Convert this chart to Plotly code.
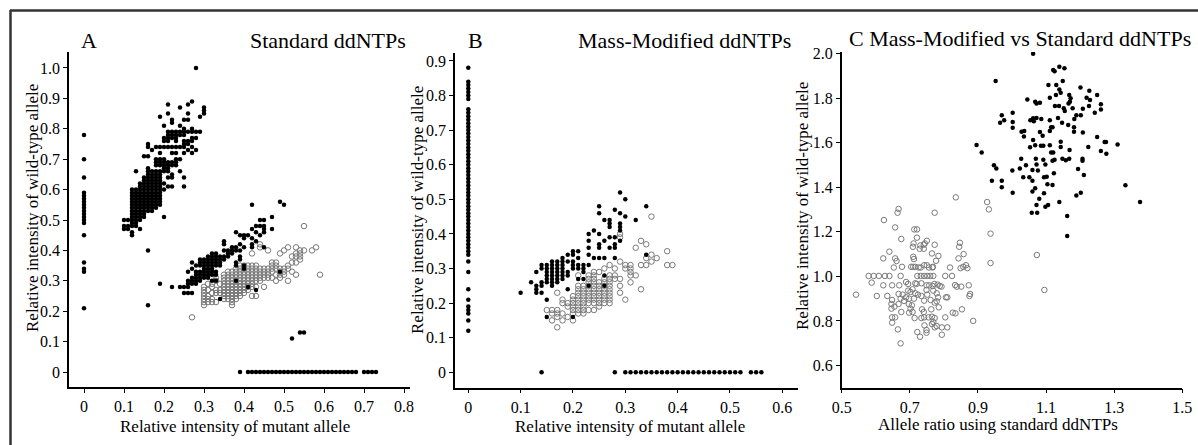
import plotly.graph_objects as go

# ---------------- DATA (values in hundredths for panels A and B) ----------------
# Panel A: Standard ddNTPs  (x = mutant, y = wild-type)
A_filled_cols = [
    (0, [78, 70, 64, 59, 58, 57, 56, 55, 54, 53, 52, 51, 50, 49, 45, 36, 34, 33, 21]),
    (10, [50, 48, 47]),
    (11, [50, 48, 47]),
    (12, [60, 59, 58, 57, 56, 55, 54, 53, 52, 51, 50, 49, 48, 46, 45]),
    (13, [66, 60, 59, 58, 57, 56, 55, 54, 53, 52, 51, 50, 49, 48]),
    (14, [62, 61, 60, 59, 58, 57, 56, 55, 54, 53, 52, 51, 50, 47]),
    (15, [71, 64, 63, 62, 61, 60, 59, 58, 57, 56, 55, 54, 53, 52, 51]),
    (16, [75, 74, 71, 67, 66, 65, 64, 63, 62, 61, 60, 59, 58, 57, 56, 55, 54, 53, 40, 22]),
    (17, [73, 66, 65, 64, 63, 62, 61, 60, 59, 58, 57, 56, 55, 54, 53]),
    (18, [74, 70, 69, 68, 66, 65, 64, 63, 62, 61, 60, 59, 58, 57, 56, 55, 54]),
    (19, [84, 74, 72, 70, 69, 68, 66, 65, 64, 63, 62, 61, 60, 59, 58, 57, 56, 55, 29]),
    (20, [81, 77, 76, 74, 70, 69, 68, 67, 66, 62, 60, 51]),
    (21, [88, 85, 79, 78, 77, 76, 74, 69, 68, 67, 66, 64, 61]),
    (22, [83, 82, 79, 78, 77, 74, 72, 69, 68, 65, 64, 61, 28]),
    (23, [79, 78, 77, 76, 74, 72, 70, 69, 68]),
    (24, [87, 81, 79, 78, 74, 70, 66, 28]),
    (25, [83, 80, 79, 78, 76, 75, 74, 72, 64, 61, 28, 26]),
    (26, [88, 85, 83, 79, 76, 75, 73, 33, 30, 29, 28, 26]),
    (27, [89, 80, 79, 77, 76, 74, 72, 36, 34, 31, 30, 29, 26]),
    (28, [100, 79, 77, 73, 35, 33, 32, 31, 30, 29]),
    (29, [84, 79, 37, 36, 35, 33, 32, 31, 30]),
    (30, [87, 86, 85, 37, 36, 35, 34, 33, 32, 31]),
    (31, [38, 37, 36, 35, 34, 33, 32, 31]),
    (32, [39, 38, 37, 36, 35, 34, 33, 32, 30]),
    (33, [39, 38, 37, 36, 35, 33, 32, 30]),
    (34, [38, 37, 36, 35, 24]),
    (35, [43, 42, 40, 38, 37]),
    (36, [40, 39, 38]),
    (37, [41, 40, 39]),
    (38, [46, 41, 40, 36, 35, 30]),
    (39, [45, 42, 40, 38, 37, 0]),
    (40, [45, 44, 41, 35, 34]),
    (41, [45, 28, 0]), (42, [55, 47, 44, 42, 41, 0]), (43, [48, 46, 43, 27, 0]),
    (44, [50, 48, 45, 0]), (45, [50, 48, 47, 46, 41, 0]), (46, [0]), (47, [51, 47, 0]),
    (48, [0]), (49, [56, 33, 0]), (50, [55, 0]), (51, [0]), (52, [11, 0]), (53, [0]),
    (54, [13, 0]), (55, [13, 0]), (56, [0]), (57, [0]), (58, [0]), (59, [0]), (60, [0]),
    (61, [0]), (62, [0]), (63, [0]), (64, [0]), (65, [0]), (66, [0]), (67, [0]), (68, [0]),
    (70, [0]), (71, [0]), (72, [0]), (73, [0]),
]
A_open_cols = [
    (27, [18]),
    (30, [28, 27, 26, 25, 24, 23, 22]),
    (31, [29, 27, 25, 24, 23]),
    (32, [31, 29, 28, 26, 24, 23]),
    (33, [31, 30, 27, 26, 23]),
    (34, [29, 27, 26]),
    (35, [32, 31, 30, 29, 28, 27, 26, 25, 24]),
    (36, [33, 32, 31, 30, 29, 28, 27, 26, 25, 24]),
    (37, [33, 32, 31, 30, 29, 28, 27, 26, 25, 24, 23, 22]),
    (38, [34, 33, 32, 31, 30, 29, 28, 27, 26, 25, 24]),
    (39, [35, 34, 33, 32, 31, 30, 29, 28, 27, 26, 25]),
    (40, [35, 34, 33, 32, 31, 30, 29, 28, 27, 26]),
    (41, [35, 34, 33, 32, 31, 30, 29, 28, 27]),
    (42, [39, 35, 34, 33, 32, 31, 30, 29, 28, 25]),
    (43, [35, 34, 33, 32, 31, 30, 28, 25]),
    (44, [42, 41, 34, 33, 32, 31, 30]),
    (45, [34, 33, 32, 31, 28]),
    (46, [40, 34, 33, 32, 31]),
    (47, [36, 35, 34, 33, 31]),
    (48, [36, 35, 34, 32, 30]),
    (49, [39, 34, 33, 32, 31]),
    (50, [40, 34, 33, 32]),
    (51, [41, 35, 34, 30]),
    (52, [38, 36, 33]),
    (53, [41, 39, 38, 36, 32]),
    (54, [40, 39, 38, 37]),
    (55, [48, 40]),
    (57, [40]),
    (58, [41]),
    (59, [32]),
]

# Panel B: Mass-Modified ddNTPs
B_filled_cols = [
    (0, [88, 84, 83, 82, 81, 80, 79, 76, 75, 74, 73, 72, 71, 70, 69, 68, 67, 66, 65, 64,
         63, 62, 61, 60, 59, 58, 57, 56, 55, 54, 53, 52, 51, 50, 49, 48, 47, 46, 45, 44,
         43, 42, 41, 40, 39, 38, 37, 36, 35, 34, 32, 29, 24, 21, 19, 18, 17, 15, 12]),
    (10, [23]), (12, [26]),
    (13, [29, 25, 24, 23]),
    (14, [31, 30, 26, 25, 23, 0]),
    (15, [31, 30, 29, 28, 27, 26, 21, 16]),
    (16, [32, 31, 30, 29, 28, 27, 26, 25]),
    (17, [32, 31, 30, 29, 28, 27, 26]),
    (18, [33, 32, 31, 30, 29, 28, 27]),
    (19, [34, 32, 29, 28, 24]),
    (20, [35, 34, 32, 31, 30, 16]),
    (21, [35, 33, 31, 30, 27]),
    (22, [31, 30, 29, 27]),
    (23, [40, 38, 36, 34, 31, 25]),
    (24, [41, 33]),
    (25, [48, 46, 40, 37, 36, 33]),
    (26, [44, 38, 33, 28, 25]),
    (27, [44, 43, 42, 39, 36]),
    (28, [47, 39, 37, 36, 33, 0]),
    (29, [52, 46, 43, 42, 41, 38]),
    (30, [50, 45, 0]), (31, [0]), (32, [44, 0]), (33, [0]), (34, [48, 34, 0]),
    (35, [0]), (36, [0]), (37, [0]), (38, [0]), (39, [0]), (40, [0]), (41, [0]),
    (42, [0]), (43, [0]), (44, [0]), (45, [0]), (46, [0]), (47, [0]), (48, [0]),
    (49, [0]), (50, [0]), (51, [0]), (52, [0]), (54, [0]), (55, [0]), (56, [0]),
]
B_open_cols = [
    (15, [18]),
    (16, [18, 17, 15]),
    (17, [23, 18, 17, 16, 13]),
    (18, [21, 20, 17, 15]),
    (19, [20, 19, 16]),
    (20, [22, 21, 20, 19, 18, 17, 15]),
    (21, [28, 25, 24, 23, 22, 21, 20, 19, 18, 17]),
    (22, [25, 24, 23, 22, 21, 20, 19, 18, 17]),
    (23, [28, 27, 26, 25, 24, 23, 22, 21, 20, 18]),
    (24, [29, 28, 27, 26, 25, 24, 23, 22, 21, 20, 18]),
    (25, [29, 26, 25, 24, 23, 22, 21, 20, 19]),
    (26, [30, 27, 26, 25, 24, 23, 22, 21, 20]),
    (27, [31, 28, 27, 26, 25, 24, 23, 22, 21, 20]),
    (28, [30, 28, 27]),
    (29, [40, 39, 32, 27, 25, 23]),
    (30, [31, 30, 21]),
    (31, [31, 30, 29, 28, 26]),
    (32, [36, 28]),
    (33, [38, 31, 24]),
    (34, [37, 33, 31]),
    (35, [45, 34, 32]),
    (36, [33]),
    (38, [35, 31]),
    (39, [31]),
]

# Panel C: Mass-Modified vs Standard ddNTPs (x, y)
C_filled = [
    (1.062, 2.000), (1.139, 1.942), (1.154, 1.935), (1.121, 1.927), (1.125, 1.921), (0.952, 1.878),
    (1.107, 1.860), (1.130, 1.860), (1.149, 1.878), (1.139, 1.840), (1.143, 1.825), (1.111, 1.803),
    (1.129, 1.815), (1.045, 1.795), (1.068, 1.785), (1.082, 1.780), (1.072, 1.777), (1.168, 1.815),
    (1.172, 1.800), (1.170, 1.785), (1.166, 1.777), (1.201, 1.848), (1.227, 1.834), (1.219, 1.803),
    (1.229, 1.792), (1.250, 1.815), (1.261, 1.773), (1.261, 1.750), (1.243, 1.735), (1.226, 1.765),
    (1.208, 1.753), (1.126, 1.765), (1.138, 1.765), (1.152, 1.755), (1.155, 1.743), (1.178, 1.755),
    (1.189, 1.724), (1.202, 1.724), (1.183, 1.707), (0.970, 1.724), (0.977, 1.701), (0.965, 1.690),
    (1.002, 1.735), (1.002, 1.694), (1.002, 1.668), (1.054, 1.701), (1.064, 1.697), (1.062, 1.710),
    (1.072, 1.712), (1.086, 1.707), (1.111, 1.701), (1.135, 1.712), (1.147, 1.690), (1.165, 1.680),
    (1.182, 1.670), (1.182, 1.650), (1.208, 1.646), (1.115, 1.670), (1.119, 1.670), (1.111, 1.653),
    (1.082, 1.649), (1.090, 1.632), (1.028, 1.650), (1.036, 1.653), (1.035, 1.628), (1.062, 1.613),
    (1.053, 1.580), (1.068, 1.589), (1.085, 1.587), (1.092, 1.587), (1.111, 1.589), (1.143, 1.605),
    (1.143, 1.581), (1.169, 1.568), (1.250, 1.626), (1.272, 1.604), (1.276, 1.604), (1.224, 1.581),
    (1.310, 1.593), (1.261, 1.563), (1.277, 1.551), (0.896, 1.590), (0.911, 1.557), (1.115, 1.557),
    (1.121, 1.557), (1.027, 1.528), (1.070, 1.528), (1.092, 1.524), (1.119, 1.520), (1.125, 1.524),
    (1.148, 1.528), (1.158, 1.522), (1.168, 1.528), (1.207, 1.528), (1.207, 1.520), (0.947, 1.499),
    (0.954, 1.485), (1.041, 1.499), (1.072, 1.503), (1.098, 1.503), (1.001, 1.476), (1.023, 1.485),
    (1.060, 1.478), (1.076, 1.476), (1.123, 1.463), (1.194, 1.482), (1.211, 1.455), (0.941, 1.430),
    (0.970, 1.430), (0.970, 1.400), (1.033, 1.445), (1.051, 1.445), (1.060, 1.430), (1.094, 1.445),
    (1.102, 1.448), (1.104, 1.414), (1.119, 1.411), (1.002, 1.376), (1.060, 1.381), (1.068, 1.396),
    (1.094, 1.373), (1.189, 1.363), (1.202, 1.376), (1.080, 1.349), (1.072, 1.321), (1.098, 1.313),
    (1.106, 1.321), (1.139, 1.334), (1.058, 1.286), (1.074, 1.286), (1.162, 1.271), (1.162, 1.181),
    (1.333, 1.409), (1.376, 1.334),
]
C_open = [
    (0.835, 1.355), (0.927, 1.334), (0.932, 1.301), (0.937, 1.192), (0.937, 1.060), (1.095, 0.939),
    (1.073, 1.096), (0.667, 1.303), (0.664, 1.286), (0.773, 1.286), (0.624, 1.253), (0.657, 1.220),
    (0.713, 1.211), (0.721, 1.211), (0.675, 1.168), (0.721, 1.174), (0.750, 1.160), (0.744, 1.148),
    (0.741, 1.142), (0.731, 1.139), (0.711, 1.148), (0.709, 1.133), (0.729, 1.124), (0.741, 1.124),
    (0.773, 1.142), (0.847, 1.151), (0.845, 1.133), (0.640, 1.111), (0.765, 1.103), (0.784, 1.092),
    (0.777, 1.070), (0.858, 1.100), (0.622, 1.081), (0.657, 1.081), (0.661, 1.069), (0.710, 1.088),
    (0.712, 1.078), (0.843, 1.081), (0.653, 1.040), (0.677, 1.043), (0.704, 1.043), (0.710, 1.043),
    (0.716, 1.043), (0.726, 1.040), (0.732, 1.040), (0.742, 1.050), (0.750, 1.050), (0.756, 1.040),
    (0.766, 1.040), (0.768, 1.043), (0.818, 1.040), (0.849, 1.037), (0.857, 1.043), (0.865, 1.050),
    (0.869, 1.037), (0.579, 1.002), (0.594, 1.002), (0.609, 1.002), (0.627, 1.002), (0.640, 1.002),
    (0.673, 1.002), (0.722, 1.002), (0.732, 1.002), (0.742, 1.002), (0.751, 1.002), (0.760, 1.002),
    (0.769, 1.002), (0.804, 1.002), (0.824, 1.002), (0.588, 0.972), (0.622, 0.960), (0.648, 0.960),
    (0.669, 0.960), (0.689, 0.975), (0.695, 0.966), (0.716, 0.969), (0.720, 0.966), (0.734, 0.969),
    (0.749, 0.960), (0.757, 0.960), (0.767, 0.957), (0.772, 0.966), (0.782, 0.963), (0.788, 0.957),
    (0.793, 0.954), (0.833, 0.961), (0.838, 0.954), (0.851, 0.954), (0.873, 0.960), (0.542, 0.918),
    (0.603, 0.912), (0.634, 0.912), (0.667, 0.921), (0.679, 0.918), (0.695, 0.936), (0.702, 0.930),
    (0.708, 0.942), (0.716, 0.924), (0.724, 0.918), (0.734, 0.912), (0.749, 0.939), (0.751, 0.918),
    (0.769, 0.936), (0.779, 0.924), (0.783, 0.906), (0.806, 0.906), (0.810, 0.906), (0.877, 0.921),
    (0.875, 0.912), (0.673, 0.900), (0.689, 0.906), (0.698, 0.900), (0.683, 0.890), (0.697, 0.876),
    (0.706, 0.870), (0.712, 0.900), (0.742, 0.891), (0.761, 0.894), (0.779, 0.888), (0.773, 0.882),
    (0.648, 0.894), (0.646, 0.876), (0.655, 0.864), (0.646, 0.855), (0.667, 0.876), (0.675, 0.840),
    (0.702, 0.855), (0.708, 0.840), (0.698, 0.837), (0.736, 0.852), (0.741, 0.840), (0.763, 0.852),
    (0.785, 0.861), (0.826, 0.837), (0.834, 0.834), (0.853, 0.852), (0.648, 0.816), (0.657, 0.816),
    (0.714, 0.813), (0.734, 0.813), (0.742, 0.816), (0.755, 0.816), (0.765, 0.819), (0.773, 0.813),
    (0.769, 0.795), (0.804, 0.816), (0.886, 0.800), (0.665, 0.762), (0.648, 0.792), (0.743, 0.780),
    (0.749, 0.759), (0.749, 0.747), (0.765, 0.786), (0.779, 0.777), (0.773, 0.771), (0.794, 0.771),
    (0.810, 0.771), (0.794, 0.738), (0.722, 0.750), (0.730, 0.729), (0.673, 0.699),
]

# Tick labels
A_xticks = [0, 0.1, 0.2, 0.3, 0.4, 0.5, 0.6, 0.7, 0.8]
A_xtext = ["0", "0.1", "0.2", "0.3", "0.4", "0.5", "0.6", "0.7", "0.8"]
A_yticks = [0, 0.1, 0.2, 0.3, 0.4, 0.5, 0.6, 0.7, 0.8, 0.9, 1.0]
A_ytext = ["0", "0.1", "0.2", "0.3", "0.4", "0.5", "0.6", "0.7", "0.8", "0.9", "1.0"]
B_xticks = [0, 0.1, 0.2, 0.3, 0.4, 0.5, 0.6]
B_xtext = ["0", "0.1", "0.2", "0.3", "0.4", "0.5", "0.6"]
B_yticks = [0, 0.1, 0.2, 0.3, 0.4, 0.5, 0.6, 0.7, 0.8, 0.9]
B_ytext = ["0", "0.1", "0.2", "0.3", "0.4", "0.5", "0.6", "0.7", "0.8", "0.9"]
C_xticks = [0.5, 0.7, 0.9, 1.1, 1.3, 1.5]
C_xtext = ["0.5", "0.7", "0.9", "1.1", "1.3", "1.5"]
C_yticks = [0.6, 0.8, 1.0, 1.2, 1.4, 1.6, 1.8, 2.0]
C_ytext = ["0.6", "0.8", "1.0", "1.2", "1.4", "1.6", "1.8", "2.0"]


def expand(cols):
    xs, ys = [], []
    for x, yl in cols:
        for y in yl:
            xs.append(x / 100)
            ys.append(y / 100)
    return xs, ys


W, H = 1198, 445
FONT = "Liberation Serif"

fig = go.Figure()

filled_marker = dict(symbol="circle", size=4.5, color="black", line=dict(width=0))
open_marker = dict(symbol="circle-open", size=5.5, color="#7a7a7a", line=dict(width=1))

ax, ay = expand(A_open_cols)
fig.add_trace(go.Scatter(x=ax, y=ay, mode="markers", marker=open_marker, xaxis="x", yaxis="y"))
ax, ay = expand(A_filled_cols)
fig.add_trace(go.Scatter(x=ax, y=ay, mode="markers", marker=filled_marker, xaxis="x", yaxis="y"))

bx, by = expand(B_open_cols)
fig.add_trace(go.Scatter(x=bx, y=by, mode="markers", marker=open_marker, xaxis="x2", yaxis="y2"))
bx, by = expand(B_filled_cols)
fig.add_trace(go.Scatter(x=bx, y=by, mode="markers", marker=filled_marker, xaxis="x2", yaxis="y2"))

fig.add_trace(go.Scatter(x=[p[0] for p in C_open], y=[p[1] for p in C_open], mode="markers",
                         marker=open_marker, xaxis="x3", yaxis="y3"))
fig.add_trace(go.Scatter(x=[p[0] for p in C_filled], y=[p[1] for p in C_filled], mode="markers",
                         marker=filled_marker, xaxis="x3", yaxis="y3"))


def px_x(px):
    return px / W


def px_y(py):
    return 1 - py / H


axis_common = dict(showline=True, linecolor="black", linewidth=1.5, ticks="outside",
                   ticklen=4, tickwidth=1.2, tickcolor="black", showgrid=False, zeroline=False,
                   mirror=False, tickfont=dict(family=FONT, size=16, color="black"),
                   fixedrange=True, automargin=False)

fig.update_layout(
    width=W, height=H, margin=dict(l=0, r=0, t=0, b=0, pad=0, autoexpand=False),
    paper_bgcolor="white", plot_bgcolor="white", showlegend=False,
    font=dict(family=FONT, color="black"),
    xaxis=dict(domain=[px_x(69), px_x(410)], range=[-0.0375, 0.815], anchor="y",
               tickvals=A_xticks, ticktext=A_xtext, **axis_common),
    yaxis=dict(domain=[px_y(387), px_y(52)], range=[-0.0493, 1.0526], anchor="x",
               tickvals=A_yticks, ticktext=A_ytext, **axis_common),
    xaxis2=dict(domain=[px_x(455), px_x(798)], range=[-0.0254, 0.630], anchor="y2",
                tickvals=B_xticks, ticktext=B_xtext, **axis_common),
    yaxis2=dict(domain=[px_y(387.7), px_y(52.7)], range=[-0.0445, 0.9237], anchor="x2",
                tickvals=B_yticks, ticktext=B_ytext, **axis_common),
    xaxis3=dict(domain=[px_x(841.7), px_x(1182.3)], range=[0.5, 1.5], anchor="y3",
                tickvals=C_xticks, ticktext=C_xtext, **axis_common),
    yaxis3=dict(domain=[px_y(387.7), px_y(52)], range=[0.5, 2.008], anchor="x3",
                tickvals=C_yticks, ticktext=C_ytext, **axis_common),
)

# Outer frame (top and left edges visible)
fig.add_shape(type="line", xref="paper", yref="paper", x0=px_x(10), x1=1.0,
              y0=px_y(10.5), y1=px_y(10.5), line=dict(color="#333333", width=2.5))
fig.add_shape(type="line", xref="paper", yref="paper", x0=px_x(10.5), x1=px_x(10.5),
              y0=0, y1=px_y(10), line=dict(color="#333333", width=2.5))


def ann(text, x, y, xanchor="center", size=22, angle=0):
    fig.add_annotation(text=text, x=px_x(x), y=px_y(y), xref="paper", yref="paper",
                       xanchor=xanchor, yanchor="middle", showarrow=False, textangle=angle,
                       font=dict(family=FONT, size=size, color="black"))


# Panel titles
ann("A", 89, 40)
ann("Standard ddNTPs", 408, 40, xanchor="right")
ann("B", 475, 40)
ann("Mass-Modified ddNTPs", 793, 40, xanchor="right")
ann("C Mass-Modified vs Standard ddNTPs", 1020, 38)

# Axis titles
ann("Relative intensity of mutant allele", 235, 426, size=17)
ann("Relative intensity of mutant allele", 630, 426, size=17)
ann("Allele ratio using standard ddNTPs", 998, 424, size=17)
ann("Relative intensity of wild-type allele", 32, 208, size=17, angle=-90)
ann("Relative intensity of wild-type allele", 417, 210, size=17, angle=-90)
ann("Relative intensity of wild-type allele", 802, 206, size=17, angle=-90)

fig.write_html("out.html",
               post_script="document.body.style.margin='0px';document.body.style.padding='0px';")
